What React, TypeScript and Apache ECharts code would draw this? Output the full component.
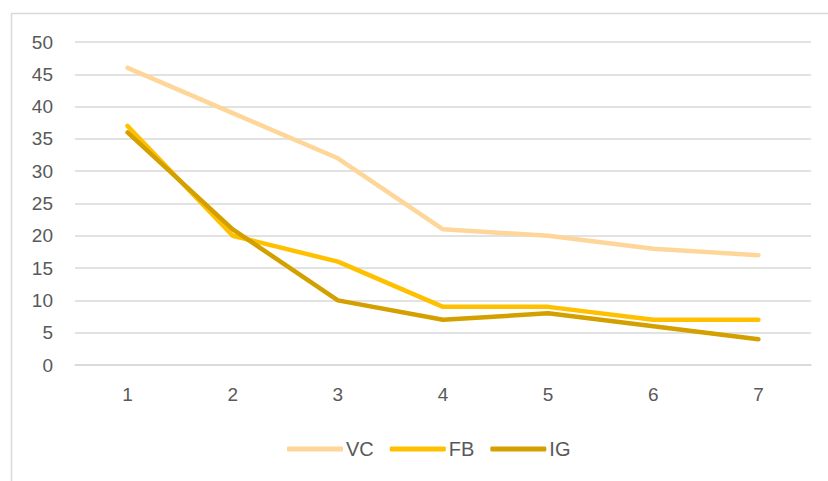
import React, { useEffect, useRef } from "react";
import * as echarts from "echarts";

const categories = ["1", "2", "3", "4", "5", "6", "7"];
const vc = [46, 39, 32, 21, 20, 18, 17];
const fb = [37, 20, 16, 9, 9, 7, 7];
const ig = [36, 21, 10, 7, 8, 6, 4];
const seriesNames = ["VC", "FB", "IG"];
const colors = ["#FFD699", "#FFC000", "#D3A000"];

export default function App() {
  const ref = useRef<HTMLDivElement>(null);
  useEffect(() => {
    const chart = echarts.init(ref.current!, null, { renderer: "svg" });
    const font = "Liberation Sans, Arial, sans-serif";
    const data = [vc, fb, ig];
    chart.setOption({
      animation: false,
      backgroundColor: "#ffffff",
      graphic: [
        {
          type: "rect",
          shape: { x: 11.5, y: 13.5, width: 840, height: 500 },
          style: { fill: "none", stroke: "#D9D9D9", lineWidth: 1.5 },
          silent: true,
        },
      ],
      grid: { left: 75, right: 17, top: 42, bottom: 116 },
      legend: {
        top: 434,
        left: 282,
        itemWidth: 56,
        itemHeight: 5,
        itemGap: 16,
        icon: "roundRect",
        textStyle: { fontFamily: font, fontSize: 20, color: "#595959", padding: [0, 0, 0, -2] },
        data: seriesNames,
      },
      xAxis: {
        type: "category",
        data: categories,
        boundaryGap: true,
        axisLine: { lineStyle: { color: "#D9D9D9", width: 1.5 } },
        axisTick: { show: false },
        axisLabel: { fontFamily: font, fontSize: 19, color: "#595959", margin: 20 },
      },
      yAxis: {
        type: "value",
        min: 0,
        max: 50,
        interval: 5,
        axisLine: { show: false },
        axisTick: { show: false },
        splitLine: { lineStyle: { color: "#D9D9D9", width: 1.5 } },
        axisLabel: { fontFamily: font, fontSize: 19, color: "#595959", margin: 22 },
      },
      series: seriesNames.map((name, i) => ({
        name,
        type: "line",
        data: data[i],
        symbol: "none",
        itemStyle: { color: colors[i] },
        lineStyle: { color: colors[i], width: 4.5, cap: "round", join: "round" },
      })),
    });
    return () => chart.dispose();
  }, []);
  return (
    <div
      ref={ref}
      style={{ position: "fixed", left: 0, top: 0, width: 828, height: 481 }}
    />
  );
}
